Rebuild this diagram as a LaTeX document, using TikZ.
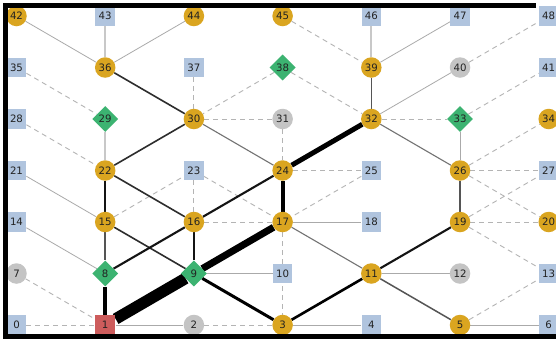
\documentclass[tikz,border=0pt]{standalone}
\usepackage{fontspec}
\setmainfont{DejaVu Sans}
\usetikzlibrary{shapes.geometric,backgrounds}
\definecolor{ocol}{RGB}{218,165,32}
\definecolor{bcol}{RGB}{176,196,222}
\definecolor{gcol}{RGB}{196,196,196}
\definecolor{dcol}{RGB}{60,179,113}
\definecolor{rcol}{RGB}{205,92,92}
\definecolor{txt}{RGB}{34,34,34}
\tikzset{
  nd/.style={inner sep=0pt, text=txt, font=\fontsize{10.2}{11}\selectfont},
  oci/.style={nd, circle, fill=ocol, minimum size=20.5pt},
  gci/.style={nd, circle, fill=gcol, minimum size=20.5pt},
  bsq/.style={nd, rectangle, fill=bcol, minimum width=19.5pt, minimum height=19.5pt},
  rsq/.style={nd, rectangle, fill=rcol, minimum width=20.5pt, minimum height=20.5pt},
  dia/.style={nd, diamond, fill=dcol, minimum size=26pt},
  e1/.style={draw={rgb,255:red,170;green,170;blue,170}, line width=0.8pt},
  e2/.style={draw={rgb,255:red,200;green,200;blue,200}, line width=1.8pt},
  e3/.style={draw={rgb,255:red,115;green,115;blue,115}, line width=1.1pt},
  e4/.style={draw={rgb,255:red,85;green,85;blue,85}, line width=1.5pt},
  e5/.style={draw={rgb,255:red,45;green,45;blue,45}, line width=1.6pt},
  e6/.style={draw={rgb,255:red,20;green,20;blue,20}, line width=2.1pt},
  eb/.style={draw=black, line width=#1},
  ed/.style={draw={rgb,255:red,180;green,180;blue,180}, line width=0.9pt, dash pattern=on 5pt off 4pt},
}
\begin{document}
\begin{tikzpicture}[x=1pt,y=-1pt]
\useasboundingbox (0,0) rectangle (556,338);
\clip (0,0) rectangle (556,338);
% grid of nodes, numbered row by row from the bottom
\foreach \k/\t in {0/bsq,1/rsq,2/gci,3/oci,4/bsq,5/oci,6/bsq,
  7/gci,8/dia,9/dia,10/bsq,11/oci,12/gci,13/bsq,
  14/bsq,15/oci,16/oci,17/oci,18/bsq,19/oci,20/oci,
  21/bsq,22/oci,23/bsq,24/oci,25/bsq,26/oci,27/bsq,
  28/bsq,29/dia,30/oci,31/gci,32/oci,33/dia,34/oci,
  35/bsq,36/oci,37/bsq,38/dia,39/oci,40/gci,41/bsq,
  42/oci,43/bsq,44/oci,45/oci,46/bsq,47/bsq,48/bsq}{
  \pgfmathtruncatemacro\ci{mod(\k,7)}
  \pgfmathtruncatemacro\rj{div(\k,7)}
  \node[\t] (n\k) at ({16.5+88.7*\ci},{325-51.5*\rj}) {\k};
}
\begin{pgfonlayer}{background}
\fill[white] (0,0) rectangle (556,338);
% dashed links
\foreach \a/\b in {35/29,37/30,45/39,38/30,38/32,30/31,40/48,33/41,32/33,
  28/22,15/23,23/16,23/17,31/24,24/25,25/17,16/17,17/3,26/34,26/27,
  26/20,19/27,19/20,19/13,5/13,7/1,0/1,2/3}
  \draw[ed] (n\a) -- (n\b);
% solid links by weight
\foreach \a/\b in {42/36,44/36,47/39,40/32,21/15,14/8,1/2,3/4,5/6,11/12,9/10,17/18,33/26}
  \draw[e1] (n\a) -- (n\b);
\foreach \a/\b in {43/36,46/39,29/22}
  \draw[e2] (n\a) -- (n\b);
\foreach \a/\b in {30/24,17/11,32/26}
  \draw[e3] (n\a) -- (n\b);
\foreach \a/\b in {39/32,26/19,15/8,11/5}
  \draw[e4] (n\a) -- (n\b);
\foreach \a/\b in {36/30,30/22,22/16,15/9}
  \draw[e5] (n\a) -- (n\b);
\foreach \a/\b in {22/15,16/8,16/9,24/16,11/19}
  \draw[e6] (n\a) -- (n\b);
\draw[eb=2.6pt] (n3) -- (n11);
\draw[eb=3pt] (n9) -- (n3);
\draw[eb=4pt] (n8) -- (n1);
\draw[eb=4pt] (n24) -- (n17);
\draw[eb=5pt] (n24) -- (n32);
\draw[eb=7pt] (n9) -- (n17);
\draw[eb=11.5pt] (n1) -- (n9);
\end{pgfonlayer}
% frame
\draw[black, line width=5pt] (536,5.5) -- (5.5,5.5) -- (5.5,336) -- (556,336);
\end{tikzpicture}
\end{document}
